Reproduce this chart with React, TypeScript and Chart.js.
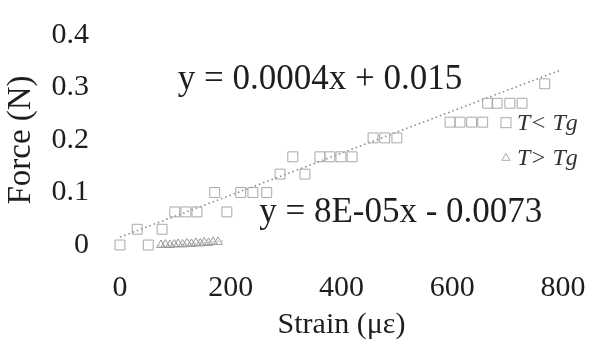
import { useEffect, useRef } from "react";
import { Chart, registerables } from "chart.js";

Chart.register(...registerables);

const lowStrain = [0, 31, 51, 76, 99, 119, 139, 171, 193, 218, 240, 265, 289, 312, 334, 361, 379, 399, 419, 457, 478, 500, 596, 614, 635, 655, 664, 681, 704, 726, 767];
const lowForce = [0, 0.03, 0, 0.03, 0.063, 0.063, 0.063, 0.1, 0.063, 0.1, 0.1, 0.1, 0.135, 0.168, 0.135, 0.168, 0.168, 0.168, 0.168, 0.204, 0.204, 0.204, 0.234, 0.234, 0.234, 0.234, 0.27, 0.27, 0.27, 0.27, 0.307];

const highStrain = [74, 82, 90, 98, 105, 113, 121, 129, 137, 145, 152, 160, 168, 177];
const highForce = [0.0, 0.001, 0.0, 0.001, 0.002, 0.001, 0.003, 0.002, 0.004, 0.003, 0.005, 0.004, 0.006, 0.006];

const lowTrendX = [0, 795];
const lowTrendY = [0.015, 0.333];
const highTrendX = [70, 190];
const highTrendY = [-0.0017, 0.0079];

const xTicks = [0, 200, 400, 600, 800];
const yTicks = [0, 0.1, 0.2, 0.3, 0.4];

const eqLow = "y = 0.0004x + 0.015";
const eqHigh = "y = 8E-05x - 0.0073";
const legendLow = "T< Tg";
const legendHigh = "T> Tg";

const SERIF = "'Liberation Serif', 'DejaVu Serif', serif";

const pts = (xs: number[], ys: number[]) => xs.map((x, i) => ({ x, y: ys[i] }));

export default function App() {
  const ref = useRef<HTMLCanvasElement | null>(null);

  useEffect(() => {
    if (!ref.current) return;
    const annot = {
      id: "annot",
      afterDraw(chart: any) {
        const { ctx, scales } = chart;
        const xs = scales.x;
        const ys = scales.y;
        ctx.save();
        ctx.fillStyle = "#1e1e1e";
        ctx.textBaseline = "middle";
        ctx.textAlign = "center";
        ctx.font = `35px ${SERIF}`;
        ctx.fillText(eqLow, xs.getPixelForValue(361), ys.getPixelForValue(0.314));
        ctx.fillText(eqHigh, xs.getPixelForValue(507), ys.getPixelForValue(0.061));
        // legend
        const lx = xs.getPixelForValue(697);
        const rows = [
          { label: legendLow, y: ys.getPixelForValue(0.233), style: "rect" },
          { label: legendHigh, y: ys.getPixelForValue(0.167), style: "triangle" },
        ];
        ctx.font = `italic 24px ${SERIF}`;
        ctx.textAlign = "left";
        rows.forEach((r) => {
          ctx.strokeStyle = "#aaa";
          ctx.lineWidth = 1;
          if (r.style === "rect") {
            ctx.strokeRect(lx - 5, r.y - 5, 10, 10);
          } else {
            ctx.beginPath();
            ctx.moveTo(lx, r.y - 4);
            ctx.lineTo(lx + 4, r.y + 3);
            ctx.lineTo(lx - 4, r.y + 3);
            ctx.closePath();
            ctx.stroke();
          }
          ctx.fillStyle = "#333";
          ctx.fillText(r.label, lx + 11, r.y + 1);
        });
        ctx.restore();
      },
    };

    const chart = new Chart(ref.current, {
      type: "scatter",
      data: {
        datasets: [
          {
            label: "T< Tg",
            data: pts(lowStrain, lowForce),
            pointStyle: "rect",
            pointRadius: 7,
            borderColor: "#a8a8a8",
            backgroundColor: "rgba(0,0,0,0)",
            borderWidth: 1,
            clip: false as any,
          },
          {
            label: "T> Tg",
            data: pts(highStrain, highForce),
            pointStyle: "triangle",
            pointRadius: 5,
            borderColor: "#999",
            backgroundColor: "rgba(0,0,0,0)",
            borderWidth: 1,
            clip: false as any,
          },
          {
            label: "trend low",
            data: pts(lowTrendX, lowTrendY),
            showLine: true,
            pointRadius: 0,
            borderColor: "#8a8a8a",
            borderWidth: 1.6,
            borderDash: [1.5, 3],
            clip: false as any,
          },
          {
            label: "trend high",
            data: pts(highTrendX, highTrendY),
            showLine: true,
            pointRadius: 0,
            borderColor: "#b0b0b0",
            borderWidth: 1.2,
            borderDash: [1.5, 3],
            clip: false as any,
          },
        ],
      },
      options: {
        animation: false,
        responsive: true,
        maintainAspectRatio: false,
        layout: { padding: { top: 35, right: 27, left: 0, bottom: 0 } },
        plugins: { legend: { display: false }, tooltip: { enabled: false } },
        scales: {
          x: {
            type: "linear",
            min: 0,
            max: 800,
            afterBuildTicks: (s: any) => {
              s.ticks = xTicks.map((v) => ({ value: v }));
            },
            afterFit: (s: any) => {
              s.height = 104;
              s.paddingLeft = 0;
              s.paddingRight = 0;
            },
            ticks: {
              padding: 25,
              color: "#1e1e1e",
              font: { family: SERIF, size: 30 },
            },
            grid: { display: false, drawTicks: false },
            border: { display: false },
            title: {
              display: true,
              text: "Strain (με)",
              color: "#1e1e1e",
              font: { family: SERIF, size: 30 },
              padding: 6,
            },
          },
          y: {
            type: "linear",
            min: 0,
            max: 0.4,
            afterBuildTicks: (s: any) => {
              s.ticks = yTicks.map((v) => ({ value: v }));
            },
            afterFit: (s: any) => {
              s.width = 120;
              s.paddingTop = 0;
              s.paddingBottom = 0;
            },
            ticks: {
              padding: 31,
              color: "#1e1e1e",
              font: { family: SERIF, size: 30 },
              callback: (v: any) => String(Number(v)),
            },
            grid: { display: false, drawTicks: false },
            border: { display: false },
            title: {
              display: true,
              text: "Force (N)",
              color: "#1e1e1e",
              font: { family: SERIF, size: 33 },
              padding: 2,
            },
          },
        },
      },
      plugins: [annot],
    });
    return () => chart.destroy();
  }, []);

  return (
    <div style={{ position: "fixed", left: 0, top: 0, width: 590, height: 349, background: "#fff" }}>
      <canvas ref={ref} />
    </div>
  );
}
